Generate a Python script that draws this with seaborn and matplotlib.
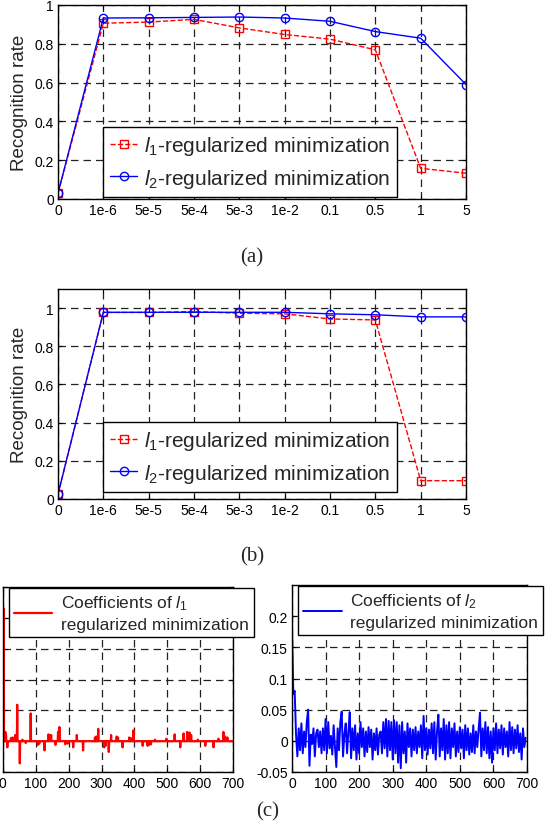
import numpy as np
import pandas as pd
import seaborn as sns
import matplotlib.pyplot as plt

# --- data ---
lam_labels = ["0", "1e-6", "5e-5", "5e-4", "5e-3", "1e-2", "0.1", "0.5", "1", "5"]

# (a) recognition rate vs lambda
rate_a_l1 = [0.03, 0.906, 0.912, 0.926, 0.882, 0.848, 0.824, 0.769, 0.158, 0.133]
rate_a_l2 = [0.03, 0.933, 0.934, 0.936, 0.938, 0.933, 0.916, 0.863, 0.829, 0.59]

# (b) recognition rate vs lambda
rate_b_l1 = [0.025, 0.977, 0.977, 0.982, 0.973, 0.970, 0.943, 0.938, 0.096, 0.096]
rate_b_l2 = [0.025, 0.978, 0.978, 0.978, 0.978, 0.978, 0.970, 0.965, 0.954, 0.954]

# (c) left: sparse l1 coefficients (nonzero entries only)
l1_idx = [3, 6, 8, 10, 14, 25, 30, 35, 38, 44, 52, 60, 70, 85, 107, 111, 127, 139, 143, 147,
          160, 168, 172, 190, 197, 214, 225, 244, 280, 284, 290, 308, 312, 322, 329, 346, 350,
          364, 384, 389, 397, 425, 440, 445, 450, 462, 497, 522, 539, 549, 560, 564, 567, 572,
          592, 615, 640, 655, 670, 675, 682]
l1_val = [0.43, 0.025, 0.03, 0.02, -0.02, 0.01, 0.012, 0.008, 0.02, 0.118, -0.072, 0.005,
          -0.006, 0.09, -0.012, -0.008, -0.03, 0.022, 0.018, 0.02, -0.012, 0.03, 0.046, -0.01,
          -0.008, -0.02, 0.02, -0.03, 0.012, 0.015, 0.04, -0.02, -0.015, -0.035, 0.02, 0.015,
          0.012, -0.02, 0.012, 0.01, 0.035, -0.015, -0.015, -0.012, -0.01, 0.005, 0.008, 0.022,
          -0.02, 0.025, 0.03, 0.02, 0.028, 0.02, 0.005, -0.015, -0.02, 0.008, 0.03, 0.015, 0.012]
n_coef = 700

# (c) right: dense l2 coefficients, sampled every 4th index
l2_idx = list(range(0, 700, 4))
l2_val = [
    0.18, 0.075, 0.08, 0.01, -0.025, 0.02, -0.015, 0.028, -0.02, 0.015, -0.01, 0.03, 0.05,
    -0.04, 0.01, -0.005, 0.02, -0.025, 0.012, 0.018, -0.01, 0.015, -0.02, 0.02, -0.015,
    0.035, -0.02, 0.03, -0.012, 0.008, -0.022, 0.025, -0.01, -0.042, 0.02, -0.015, 0.03, 0.047,
    -0.025, 0.01, 0.028, -0.02, 0.015, 0.046, -0.028, 0.02, -0.015, 0.025, -0.03, 0.012,
    -0.02, 0.03, -0.01, 0.02, -0.025, 0.015, -0.018, 0.022, -0.01, 0.018, -0.03, 0.012, -0.015,
    0.02, -0.022, 0.01, 0.015, -0.02, 0.03, -0.012, 0.035, -0.025, 0.032, -0.015, 0.03,
    -0.03, 0.033, -0.02, 0.03, -0.035, 0.025, -0.044, 0.03, -0.02, 0.015, -0.035, 0.028, -0.01,
    0.02, -0.025, 0.018, -0.015, 0.022, -0.02, 0.015, -0.01, 0.025, -0.028, 0.04, -0.015,
    0.02, -0.022, 0.018, -0.012, 0.028, -0.02, 0.03, -0.03, 0.015, 0.042, -0.025, 0.02, -0.015,
    0.035, -0.03, 0.025, -0.02, 0.03, -0.028, 0.02, -0.01, 0.028, -0.025, 0.015, -0.018,
    0.022, -0.012, 0.018, -0.028, 0.025, -0.015, 0.02, -0.022, 0.012, -0.018, 0.025, -0.02,
    0.015, -0.01, 0.02, 0.045, -0.025, 0.02, -0.015, 0.03, -0.02, 0.022, -0.028, 0.015, -0.035,
    0.02, -0.015, 0.028, -0.02, 0.018, -0.012, 0.025, -0.022, 0.02, -0.01, 0.015, -0.025,
    0.03, -0.015, 0.022, -0.02, 0.018, -0.012, 0.025, -0.018, 0.012, -0.03, 0.02, -0.01, 0.005,
]

# --- style ---
sns.set_style("ticks")
plt.rcParams['font.family'] = ['Liberation Sans', 'DejaVu Sans']
plt.rcParams['mathtext.fontset'] = 'custom'
plt.rcParams['mathtext.rm'] = 'Liberation Sans'
plt.rcParams['mathtext.it'] = 'Liberation Sans:italic'
plt.rcParams['axes.linewidth'] = 1.0

W, H = 549, 828
fig = plt.figure(figsize=(W / 100, H / 100), dpi=100)


def box(l, t, r, b):
    return [l / W, 1 - b / H, (r - l) / W, (b - t) / H]


def matlab_axes(ax):
    ax.tick_params(direction='in', top=True, right=True, length=3, width=0.8,
                   labelsize=10, pad=3, colors='black')
    ax.grid(True, color='#222222', linestyle=(0, (6, 4)), linewidth=0.9)
    for s in ax.spines.values():
        s.set_color('black')


def rate_panel(ax, l1, l2, ytop, legend_box):
    xpos = np.arange(len(lam_labels))
    df = pd.DataFrame({'x': xpos, 'l1': l1, 'l2': l2})
    sns.lineplot(data=df, x='x', y='l1', ax=ax, color='red', linestyle='--', linewidth=1.0,
                 marker='s', markersize=6, markerfacecolor='none', markeredgecolor='red',
                 markeredgewidth=1.0, label=r'$l_1$-regularized minimization')
    sns.lineplot(data=df, x='x', y='l2', ax=ax, color='blue', linestyle='-', linewidth=1.0,
                 marker='o', markersize=6, markerfacecolor='none', markeredgecolor='blue',
                 markeredgewidth=1.0, label=r'$l_2$-regularized minimization')
    ax.set_xlim(0, 9)
    ax.set_ylim(0, ytop)
    ax.set_xticks(xpos)
    ax.set_xticklabels(lam_labels)
    ax.set_yticks([0, 0.2, 0.4, 0.6, 0.8, 1.0])
    ax.set_yticklabels(['0', '0.2', '0.4', '0.6', '0.8', '1'])
    ax.set_xlabel('')
    ax.set_ylabel('Recognition rate', fontsize=13.5, labelpad=5)
    matlab_axes(ax)
    leg = ax.legend(loc='lower left', bbox_to_anchor=legend_box, fontsize=15,
                    frameon=True, fancybox=False, edgecolor='black', framealpha=1,
                    handlelength=1.3, handletextpad=0.3, borderpad=0.35, labelspacing=0.45,
                    borderaxespad=0)
    leg.get_frame().set_linewidth(1.0)


ax_a = fig.add_axes(box(58, 6, 466, 200))
rate_panel(ax_a, rate_a_l1, rate_a_l2, 1.0, (0.11, 0.01))

ax_b = fig.add_axes(box(58, 290, 466, 500))
rate_panel(ax_b, rate_b_l1, rate_b_l2, 1.1, (0.11, 0.033))


def coef_legend(ax, anchor):
    leg = ax.legend(loc='upper left', bbox_to_anchor=anchor, fontsize=12.5,
                    frameon=True, fancybox=False, edgecolor='black', framealpha=1,
                    handlelength=2.2, handletextpad=0.5, borderpad=0.3, borderaxespad=0)
    leg.get_frame().set_linewidth(1.0)
    for t in leg.get_texts():
        t.set_linespacing(1.45)


# (c) left
coef1 = np.zeros(n_coef)
coef1[l1_idx] = l1_val
ax_c1 = fig.add_axes(box(2.7, 588, 233.3, 773))
sns.lineplot(x=np.arange(n_coef), y=coef1, ax=ax_c1, color='red', linewidth=1.6,
             label='Coefficients of $l_1$\nregularized minimization')
ax_c1.set_xlim(0, 700)
ax_c1.set_ylim(-0.1, 0.5)
ax_c1.set_xticks(range(0, 701, 100))
ax_c1.set_yticks([-0.1, 0, 0.1, 0.2, 0.3, 0.4, 0.5])
matlab_axes(ax_c1)
ax_c1.tick_params(labelleft=False)
coef_legend(ax_c1, (0.027, 0.995))

# (c) right
ax_c2 = fig.add_axes(box(292, 586, 527, 773))
sns.lineplot(x=l2_idx, y=l2_val, ax=ax_c2, color='blue', linewidth=1.4,
             label='Coefficients of $l_2$\nregularized minimization')
ax_c2.set_xlim(0, 700)
ax_c2.set_ylim(-0.05, 0.25)
ax_c2.set_xticks(range(0, 701, 100))
ax_c2.set_yticks([-0.05, 0, 0.05, 0.1, 0.15, 0.2])
ax_c2.set_yticklabels(['-0.05', '0', '0.05', '0.1', '0.15', '0.2'])
matlab_axes(ax_c2)
coef_legend(ax_c2, (0.026, 0.995))

# captions
for txt, x, y in [('(a)', 252, 258), ('(b)', 252, 557), ('(c)', 268, 812)]:
    fig.text(x / W, 1 - y / H, txt, ha='center', va='center', fontsize=15,
             family=['Liberation Serif', 'DejaVu Serif'])

fig.savefig('out.png', dpi=100)
